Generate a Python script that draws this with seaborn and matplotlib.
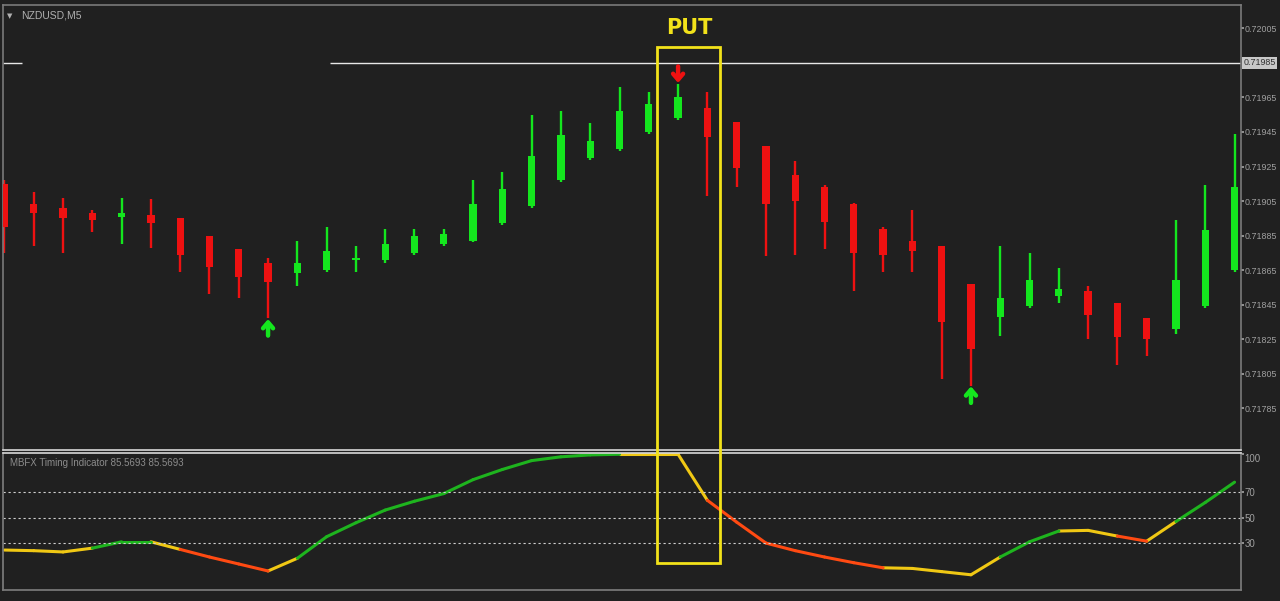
import numpy as np
import pandas as pd
import seaborn as sns
import matplotlib.pyplot as plt
from matplotlib import transforms
from matplotlib.patches import Rectangle

# NZDUSD M5 candles
opens = [0.71915, 0.71903, 0.71901, 0.71898, 0.71896, 0.71897, 0.71895, 0.71885, 0.71877, 0.71869,
         0.71863, 0.71865, 0.71871, 0.71871, 0.71875, 0.71880, 0.71882, 0.71892, 0.71902, 0.71917,
         0.71930, 0.71935, 0.71945, 0.71953, 0.71959, 0.71951, 0.71937, 0.71920, 0.71913, 0.71903,
         0.71889, 0.71882, 0.71879, 0.71857, 0.71838, 0.71844, 0.71850, 0.71853, 0.71846, 0.71837,
         0.71831, 0.71844, 0.71865]
highs = [0.71917, 0.71910, 0.71907, 0.71900, 0.71907, 0.71906, 0.71895, 0.71885, 0.71877, 0.71872,
         0.71882, 0.71890, 0.71879, 0.71889, 0.71889, 0.71889, 0.71917, 0.71922, 0.71955, 0.71957,
         0.71950, 0.71971, 0.71968, 0.71973, 0.71968, 0.71951, 0.71937, 0.71928, 0.71914, 0.71904,
         0.71890, 0.71900, 0.71879, 0.71857, 0.71879, 0.71875, 0.71866, 0.71856, 0.71846, 0.71837,
         0.71894, 0.71914, 0.71944]
lows = [0.71875, 0.71879, 0.71875, 0.71887, 0.71880, 0.71878, 0.71864, 0.71851, 0.71849, 0.71837,
        0.71856, 0.71864, 0.71864, 0.71869, 0.71874, 0.71879, 0.71881, 0.71891, 0.71901, 0.71916,
        0.71929, 0.71934, 0.71944, 0.71952, 0.71908, 0.71913, 0.71873, 0.71874, 0.71877, 0.71853,
        0.71864, 0.71864, 0.71802, 0.71798, 0.71827, 0.71843, 0.71846, 0.71825, 0.71810, 0.71815,
        0.71828, 0.71843, 0.71864]
closes = [0.71890, 0.71898, 0.71895, 0.71894, 0.71898, 0.71892, 0.71874, 0.71867, 0.71861, 0.71858,
          0.71869, 0.71876, 0.71872, 0.71880, 0.71885, 0.71886, 0.71903, 0.71912, 0.71931, 0.71943,
          0.71940, 0.71957, 0.71961, 0.71965, 0.71942, 0.71924, 0.71903, 0.71905, 0.71893, 0.71875,
          0.71874, 0.71876, 0.71835, 0.71819, 0.71849, 0.71859, 0.71854, 0.71839, 0.71826, 0.71825,
          0.71859, 0.71888, 0.71913]

# signal arrows: bar index and direction
buy_bars = [9, 33]
sell_bars = [23]
put_bar = 23
price_line = 0.71985

# MBFX timing indicator values and segment colours (Y yellow, G green, R red)
mbfx = [24.5, 24, 23, 26, 31, 31, 25, 19, 13.5, 8, 18, 35, 46, 56, 63, 69, 80, 88, 95, 98,
        99.5, 100, 100, 100, 63.7, 46.5, 30, 24, 19, 14.5, 10.5, 10, 7.5, 5, 19, 31, 39.5, 40,
        35.5, 31.5, 47, 62, 78]
mbfx_seg = list("YYYGGYRRRY" + "G" * 11 + "YYYRRRRRRYYYYGGYYRYGG")
mbfx_levels = [70, 50, 30]

price_ticks = [0.72005, 0.71965, 0.71945, 0.71925, 0.71905, 0.71885, 0.71865, 0.71845,
               0.71825, 0.71805, 0.71785]

BG = '#202020'
GREEN = '#14e61e'
RED = '#ee1111'
TXT = '#a0a0a0'

sns.set_theme(style='dark', rc={'axes.facecolor': BG, 'figure.facecolor': BG})
plt.rcParams['font.family'] = ['Liberation Sans', 'DejaVu Sans']

fig = plt.figure(figsize=(12.8, 6.01), dpi=100)
W, H = 1280, 601
ax = fig.add_axes([3 / W, 1 - 450 / H, 1238 / W, 445 / H])
ax2 = fig.add_axes([3 / W, 1 - 590 / H, 1238 / W, 137 / H], sharex=ax)

n = len(opens)
x = np.arange(n)
o = np.array(opens)
c = np.array(closes)
up = c >= o
cols = np.where(up, GREEN, RED)
ax.vlines(x, lows, highs, colors=cols, lw=1.7, zorder=2)
body_lo = np.minimum(o, c)
body_h = np.maximum(np.abs(c - o), 0.000012)
ax.bar(x, body_h, bottom=body_lo, width=0.25, color=cols, edgecolor='none', linewidth=0, zorder=3)

# arrows
hl = np.array(highs)
ll = np.array(lows)
arrow_style = '->,head_width=0.3,head_length=0.35'
for b in buy_bars:
    ax.annotate('', xy=(b, ll[b] - 0.000004), xytext=(b, ll[b] - 0.0001),
                arrowprops=dict(arrowstyle=arrow_style, color=GREEN, lw=3.2, shrinkA=0, shrinkB=0))
for b in sell_bars:
    ax.annotate('', xy=(b, hl[b] + 0.000004), xytext=(b, hl[b] + 0.0001),
                arrowprops=dict(arrowstyle=arrow_style, color=RED, lw=3.2, shrinkA=0, shrinkB=0))

ax.set_xlim(-0.05, 42.22)
ax.set_ylim(0.717607, 0.720186)

# price line with a gap
ax.hlines(price_line, -0.05, 0.6, color='#e8e8e8', lw=1)
ax.hlines(price_line, 11.1, 42.22, color='#e8e8e8', lw=1)
ax.text(1.002, price_line, '0.71985', transform=transforms.blended_transform_factory(ax.transAxes, ax.transData),
        va='center', ha='left', fontsize=6.4, color='#303030',
        bbox=dict(facecolor='#c8c8c8', edgecolor='none', pad=1.0))

ax.yaxis.tick_right()
ax.set_yticks(price_ticks)
ax.set_yticklabels([f'{p:.5f}' for p in price_ticks])
ax.tick_params(axis='y', colors=TXT, labelsize=6.4, length=2, pad=0.5, right=True)
ax.tick_params(axis='x', bottom=False, labelbottom=False)
ax.grid(False)
for s in ['top', 'left', 'right']:
    ax.spines[s].set_color('#7a7a7a')
    ax.spines[s].set_linewidth(1.2)
ax.spines['bottom'].set_color('#d8d8d8')
ax.spines['bottom'].set_linewidth(1.2)
ax.set_xlabel('')
ax.set_ylabel('')

ax.text(18 / 1238, 1 - 6 / 445, 'NZDUSD,M5', transform=ax.transAxes, fontsize=7.5, color='#b0b0b0', va='top')
ax.text(4 / 1238, 1 - 8 / 445, '\u25BC', transform=ax.transAxes, fontsize=5, color='#b0b0b0', va='top',
        family='DejaVu Sans')

# indicator
rows = []
for i, col in enumerate(mbfx_seg):
    rows.append({'seg': i, 'bar': i, 'value': mbfx[i], 'color': col})
    rows.append({'seg': i, 'bar': i + 1, 'value': mbfx[i + 1], 'color': col})
df = pd.DataFrame(rows)
sns.lineplot(data=df, x='bar', y='value', hue='color', units='seg', estimator=None, sort=False,
             palette={'Y': '#f0c814', 'G': '#1eb41e', 'R': '#ff4a12'}, lw=2.2, legend=False, ax=ax2)
for lv in mbfx_levels:
    ax2.axhline(lv, color='#d0d0d0', lw=0.8, ls=(0, (2, 2.5)))
ax2.set_ylim(-7, 101)
ax2.yaxis.tick_right()
ax2.set_yticks([100] + mbfx_levels)
ax2.set_yticklabels(['100'] + [str(v) for v in mbfx_levels])
ax2.tick_params(axis='y', colors=TXT, labelsize=7, length=2, pad=0.5, right=True)
ax2.tick_params(axis='x', bottom=False, labelbottom=False)
ax2.get_yticklabels()[0].set_verticalalignment('top')
ax2.grid(False)
ax2.set_xlabel('')
ax2.set_ylabel('')
for s in ['left', 'right', 'bottom']:
    ax2.spines[s].set_color('#7a7a7a')
ax2.spines['top'].set_color('#d8d8d8')
ax2.spines['top'].set_linewidth(1.2)
ax2.text(7 / 1238, 1 - 5 / 137, 'MBFX Timing Indicator 85.5693 85.5693', transform=ax2.transAxes,
         fontsize=7, color='#8c8c8c', va='top')

# PUT box across both panels
blend = transforms.blended_transform_factory(ax.transData, fig.transFigure)
fig.patches.append(Rectangle((put_bar - 0.71, 1 - 563 / H), 2.15, (563 - 47) / H, transform=blend,
                             fill=False, edgecolor='#f2e21a', lw=2, zorder=10))
fig.text(put_bar + 0.37, 1 - 28 / H, 'PUT', transform=blend, family='DejaVu Sans',
         ha='center', va='center', fontsize=15, fontweight='heavy', color='#f2e21a')

fig.savefig('out.png', dpi=100, facecolor=BG)
